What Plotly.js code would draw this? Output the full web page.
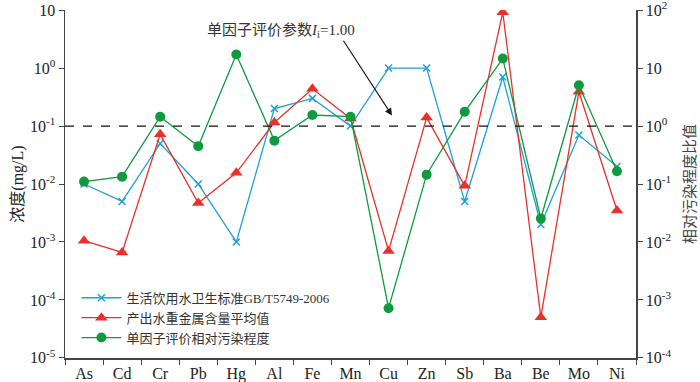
<!DOCTYPE html>
<html>
<head>
<meta charset="utf-8">
<script src="https://cdn.plot.ly/plotly-3.0.1.min.js"></script>
<style>
  html, body { margin: 0; padding: 0; background: #fff; }
  #chart { width: 700px; height: 382px; }
</style>
</head>
<body>
<div id="chart"></div>
<script>
// elements on the x axis
const elements = ['As', 'Cd', 'Cr', 'Pb', 'Hg', 'Al', 'Fe', 'Mn', 'Cu', 'Zn', 'Sb', 'Ba', 'Be', 'Mo', 'Ni'];

// GB/T5749-2006 drinking water limits (mg/L)
const standardVals = [0.01, 0.005, 0.05, 0.01, 0.001, 0.2, 0.3, 0.1, 1.0, 1.0, 0.005, 0.7, 0.002, 0.07, 0.02];

// mean heavy metal content of produced water (mg/L)
const producedVals = [0.00105, 0.00066, 0.072, 0.0047, 0.0156, 0.115, 0.44, 0.135, 0.0007, 0.14, 0.0093, 9.2, 0.00005, 0.39, 0.0035];

// single factor relative pollution degree (right axis)
const pollutionVals = [0.11, 0.134, 1.45, 0.45, 17.1, 0.56, 1.55, 1.45, 0.00072, 0.145, 1.76, 14.6, 0.0254, 5.05, 0.166];

// tick labels
const leftTickVals = [1e-5, 1e-4, 1e-3, 1e-2, 1e-1, 1, 10];
const leftTickText = ['10<sup>-5</sup>', '10<sup>-4</sup>', '10<sup>-3</sup>', '10<sup>-2</sup>', '10<sup>-1</sup>', '10<sup>0</sup>', '10'];
const rightTickVals = [1e-4, 1e-3, 1e-2, 1e-1, 1, 10, 100];
const rightTickText = ['10<sup>-4</sup>', '10<sup>-3</sup>', '10<sup>-2</sup>', '10<sup>-1</sup>', '10<sup>0</sup>', '10', '10<sup>2</sup>'];

const FONT = '"Liberation Serif", "Times New Roman", "Noto Sans CJK SC", serif';
const BLUE = '#1ea0dc';
const RED = '#e8312a';
const GREEN = '#0f9a3f';

const data = [{
    x: elements,
    y: standardVals,
    name: '生活饮用水卫生标准GB/T5749-2006',
    mode: 'lines+markers',
    line: { color: BLUE, width: 1.3 },
    marker: { symbol: 'x-thin', size: 7, line: { color: BLUE, width: 1.5 } },
}, {
    x: elements,
    y: producedVals,
    name: '产出水重金属含量平均值',
    mode: 'lines+markers',
    line: { color: RED, width: 1.3 },
    marker: { symbol: 'triangle-up', size: 11, color: RED },
}, {
    x: elements,
    y: pollutionVals,
    name: '单因子评价相对污染程度',
    yaxis: 'y2',
    mode: 'lines+markers',
    line: { color: GREEN, width: 1.3 },
    marker: { symbol: 'circle', size: 10, color: GREEN },
}];

const layout = {
    width: 700,
    height: 382,
    margin: { l: 65, r: 64, t: 10, b: 24, pad: 0 },
    paper_bgcolor: '#fff',
    plot_bgcolor: '#fff',
    font: { family: FONT, size: 15, color: '#222' },
    showlegend: true,
    legend: {
        x: 0.02, y: 0.015, xanchor: 'left', yanchor: 'bottom',
        bgcolor: 'rgba(0,0,0,0)',
        font: { family: FONT, size: 13, color: '#333' },
        tracegroupgap: 0,
        itemwidth: 40,
    },
    xaxis: {
        type: 'category',
        range: [-0.5, 14.5],
        tickson: 'boundaries',
        ticks: 'outside',
        ticklen: 5,
        tickcolor: '#444',
        showline: true,
        linecolor: '#444',
        linewidth: 1.5,
        showgrid: false,
        zeroline: false,
        tickfont: { family: FONT, size: 16, color: '#222' },
    },
    yaxis: {
        type: 'log',
        range: [-5.002, 1.002],
        tickvals: leftTickVals,
        ticktext: leftTickText,
        ticks: 'outside',
        ticklen: 5,
        tickcolor: '#444',
        ticklabeloverflow: 'allow',
        showline: true,
        linecolor: '#444',
        linewidth: 1.5,
        showgrid: false,
        zeroline: false,
        tickfont: { family: FONT, size: 16, color: '#222' },
        title: { text: '浓度(mg/L)', font: { family: FONT, size: 16, color: '#222' }, standoff: 2 },
    },
    yaxis2: {
        type: 'log',
        overlaying: 'y',
        side: 'right',
        range: [-4.002, 2.002],
        tickvals: rightTickVals,
        ticktext: rightTickText,
        ticks: 'outside',
        ticklen: 5,
        tickcolor: '#444',
        ticklabeloverflow: 'allow',
        showline: true,
        linecolor: '#444',
        linewidth: 1.5,
        showgrid: false,
        zeroline: false,
        tickfont: { family: FONT, size: 16, color: '#222' },
        title: { text: '相对污染程度比值', font: { family: FONT, size: 15, color: '#444' }, standoff: 14 },
    },
    shapes: [{
        type: 'line', xref: 'paper', yref: 'y',
        x0: 0, x1: 1, y0: 0.1, y1: 0.1,
        line: { color: '#111', width: 1.3, dash: 'dash' },
    }],
    annotations: [{
        xref: 'paper', yref: 'paper', x: 0.378, y: 0.97,
        text: '单因子评价参数<i>I</i><sub>i</sub>=1.00',
        showarrow: false,
        font: { family: FONT, size: 15, color: '#333' },
    }, {
        xref: 'x', yref: 'y', x: 8.09, y: -0.817,
        ax: -52, ay: -80,
        text: ' ',
        showarrow: true,
        arrowhead: 2,
        arrowsize: 1.3,
        arrowwidth: 1.1,
        arrowcolor: '#111',
    }],
};

const config = { staticPlot: true, displayModeBar: false };

Plotly.newPlot('chart', data, layout, config);
</script>
</body>
</html>
